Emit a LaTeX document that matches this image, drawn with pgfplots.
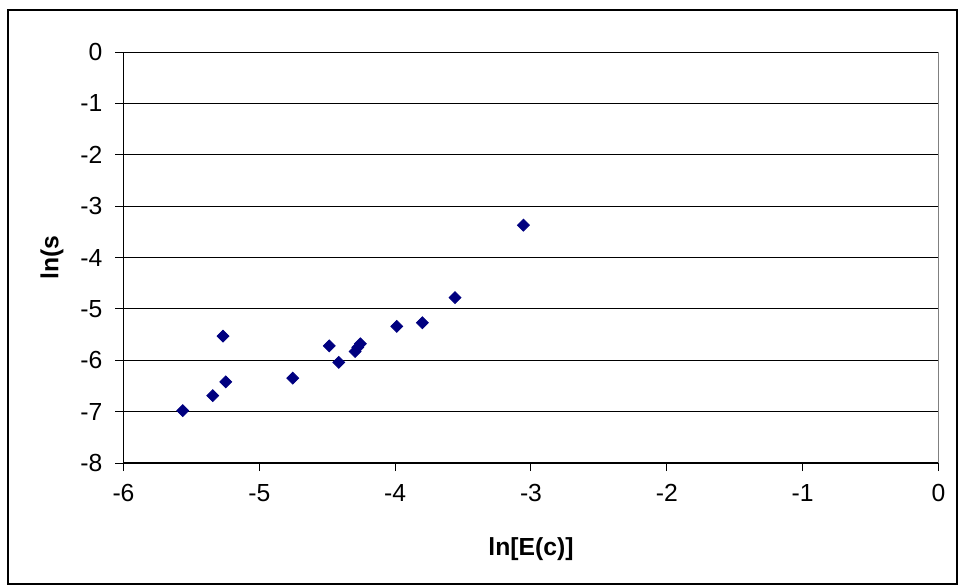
\documentclass[border=0pt]{standalone}
\usepackage{fontspec}
\setmainfont{Liberation Sans}
\usepackage{pgfplots}
\pgfplotsset{compat=1.18}
\definecolor{excelnavy}{RGB}{0,0,128}

\begin{document}
\begin{tikzpicture}
\useasboundingbox (0,0) rectangle (480bp,293.5bp);
\draw[black, line width=0.6bp] (4bp,1.5bp) rectangle (478.5bp,288.5bp);
\begin{axis}[
  at={(61.75bp,62bp)}, anchor=south west,
  scale only axis,
  width=407.5bp, height=205.5bp,
  xmin=-6, xmax=0, ymin=-8, ymax=0,
  xtick={-6,-5,...,0}, ytick={-8,-7,...,0},
  axis x line*=bottom, axis y line*=left,
  x axis line style={line width=1.1bp, -},
  y axis line style={line width=0.7bp, -},
  ymajorgrids, grid style={black, line width=0.5bp},
  tick align=outside, major tick length=4bp,
  tick style={black, line width=0.5bp},
  /pgf/number format/assume math mode=true,
  ticklabel style={font=\fontsize{12.4}{14}\selectfont},
  xticklabel style={yshift=-3bp},
  yticklabel style={xshift=-3bp},
  xlabel={ln[E(c)]}, ylabel={ln(s},
  label style={font=\fontsize{12.4}{14}\selectfont\bfseries},
  xlabel style={at={(axis description cs:0.5,0)}, anchor=center, yshift=-43bp},
  ylabel style={at={(axis description cs:-0.0877,0.5)}, anchor=center, rotate=0},
  clip=false,
]
\draw[gray, line width=0.6bp] (axis cs:0,-8) -- (axis cs:0,0);
\addplot[only marks, mark=square*, mark size=2.1bp,
  mark options={rotate=45, fill=excelnavy, draw=excelnavy}]
  coordinates {
  (-5.564,-6.98) (-5.343,-6.69) (-5.247,-6.42) (-5.267,-5.53)
  (-4.754,-6.35) (-4.485,-5.72) (-4.415,-6.04) (-4.295,-5.83)
  (-4.275,-5.75) (-4.256,-5.68) (-3.988,-5.34) (-3.800,-5.27)
  (-3.559,-4.78) (-3.056,-3.37)
  };
\end{axis}
\end{tikzpicture}
\end{document}
